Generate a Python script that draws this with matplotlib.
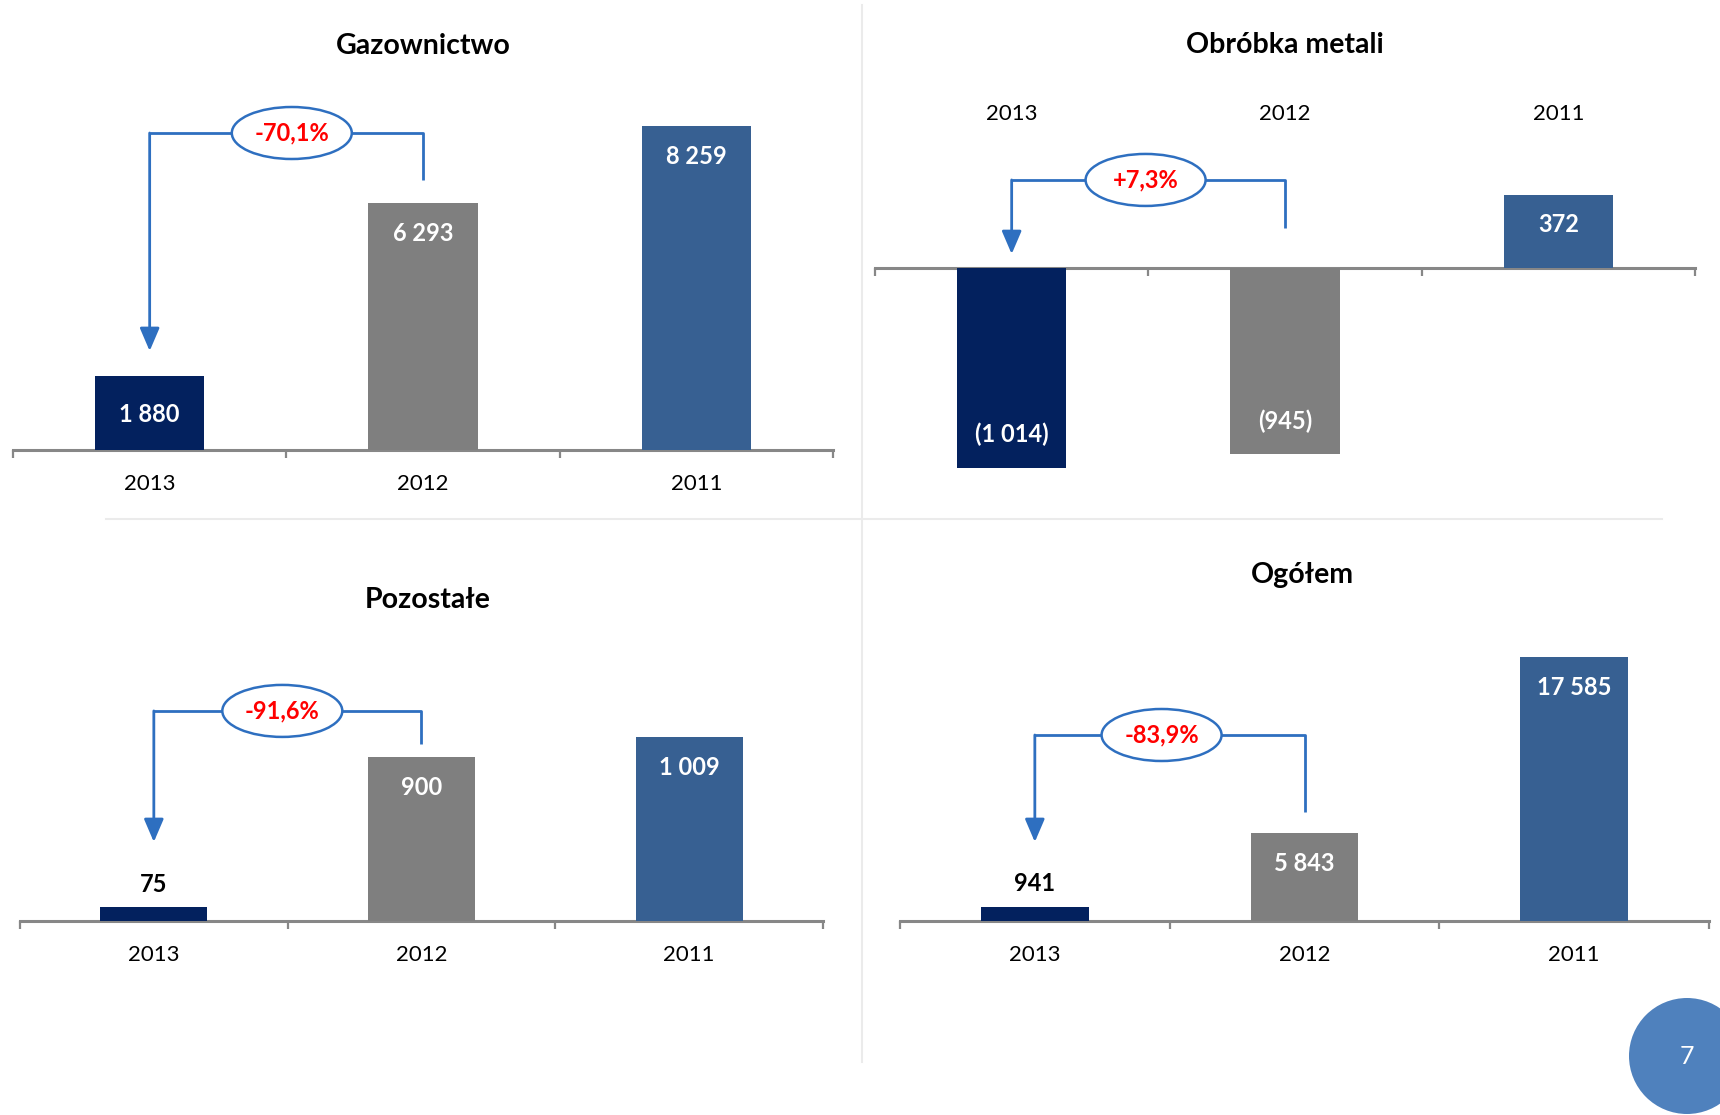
import matplotlib
matplotlib.use("Agg")
import matplotlib.pyplot as plt
from matplotlib.patches import Ellipse

plt.rcParams['font.family'] = ['Lato', 'DejaVu Sans']

# ---------------- data ----------------
years = ["2013", "2012", "2011"]
titles = ["Gazownictwo", "Obróbka metali", "Pozostałe", "Ogółem"]
gaz = [1880, 6293, 8259]
metal = [-1014, -945, 372]
pozostale = [75, 900, 1009]
ogolem = [941, 5843, 17585]
changes = ["-70,1%", "+7,3%", "-91,6%", "-83,9%"]
series = [gaz, metal, pozostale, ogolem]

# ---------------- style / layout ----------------
W, H = 1720, 1115
bar_colors = ["#03215E", "#7F7F7F", "#376092"]
blue = "#2E6FC0"
axis_col = "#878787"

# pixel rects (left, right, top, bottom) and y-limits
layout = [
    dict(rect=(13, 833, 100, 450), ylim=(0, 8929), labels_top=False,
         title_xy=(423, 46), bracket=(8087, 2526, 6888), cx=0.52),
    dict(rect=(875, 1695, 150, 480), ylim=(-1076, 599), labels_top=True,
         title_xy=(1285, 45), bracket=(447, 71, 203), cx=0.49),
    dict(rect=(20, 823, 700, 921), ylim=(0, 1214), labels_top=False,
         title_xy=(428, 600), bracket=(1154, 434, 973), cx=0.48),
    dict(rect=(900, 1709, 640, 921), ylim=(0, 18733), labels_top=False,
         title_xy=(1302, 575), bracket=(12400, 5267, 7267), cx=0.47),
]

fig = plt.figure(figsize=(W / 100, H / 100), dpi=100)


def fmt(v):
    s = f"{abs(v):,}".replace(",", " ")
    return f"({s})" if v < 0 else s


for vals, title, pct, lay in zip(series, titles, changes, layout):
    l, r, t, b = lay["rect"]
    ax = fig.add_axes([l / W, 1 - b / H, (r - l) / W, (b - t) / H])
    ax.set_xlim(-0.5, 2.5)
    ax.set_ylim(*lay["ylim"])
    ax.patch.set_alpha(0)
    for s in ["top", "left", "right"]:
        ax.spines[s].set_visible(False)
    ax.spines["bottom"].set_position(("data", 0))
    ax.spines["bottom"].set_color(axis_col)
    ax.spines["bottom"].set_linewidth(2.2)
    ax.spines["bottom"].set_zorder(1)
    ax.set_yticks([])
    ax.set_xticks([0, 1, 2])
    ax.set_xticklabels([])
    ax.tick_params(axis="x", which="major", length=0)
    ax.set_xticks([-0.5, 0.5, 1.5, 2.5], minor=True)
    ax.tick_params(axis="x", which="minor", length=6, width=1.6,
                   color=axis_col, direction="out")

    x = list(range(len(years)))
    ax.bar(x, vals, width=0.4, color=bar_colors, zorder=2)

    # pixel scale
    ppx = (r - l) / 3.0
    ppy = (b - t) / (lay["ylim"][1] - lay["ylim"][0])

    # value labels
    for xi, v in zip(x, vals):
        hpx = abs(v) * ppy
        sign = 1 if v >= 0 else -1
        if hpx < 40:
            ax.annotate(fmt(v), xy=(xi, v), xytext=(0, 23 * sign),
                        textcoords="offset pixels", ha="center", va="center",
                        fontsize=17, fontweight="bold", color="black",
                        zorder=5)
        else:
            off = 33 if hpx > 150 and sign < 0 else 30
            if 60 < hpx < 80 and sign > 0 and xi == 0:
                off = 38
            ax.annotate(fmt(v), xy=(xi, v), xytext=(0, -off * sign),
                        textcoords="offset pixels", ha="center", va="center",
                        fontsize=17, fontweight="bold", color="white",
                        zorder=5)

    # category labels
    for xi, yr in zip(x, years):
        off = 154 if lay["labels_top"] else -34
        ax.annotate(yr, xy=(xi, 0), xytext=(0, off),
                    textcoords="offset pixels", ha="center", va="center",
                    fontsize=16, color="black", annotation_clip=False)

    # bracket with arrow
    by, tip, rend = lay["bracket"]
    ax.plot([1, 1, 0], [rend, by, by], color=blue, lw=2.0,
            solid_capstyle="butt", clip_on=False, zorder=3)
    ax.annotate("", xy=(0, tip), xytext=(0, by),
                arrowprops=dict(arrowstyle="-|>,head_length=0.7,head_width=0.3",
                                color=blue, lw=2.0, shrinkA=0, shrinkB=0,
                                mutation_scale=20),
                annotation_clip=False, zorder=3)
    cx = lay["cx"]
    ell = Ellipse((cx, by), width=120 / ppx, height=52 / ppy,
                  facecolor="white", edgecolor=blue, lw=1.8,
                  clip_on=False, zorder=4)
    ax.add_patch(ell)
    ax.text(cx, by, pct, ha="center", va="center", color="#FF0000",
            fontsize=17, fontweight="bold", zorder=6, clip_on=False)

    tx, ty = lay["title_xy"]
    fig.text(tx / W, 1 - ty / H, title, ha="center", va="center",
             fontsize=20.5, fontweight="bold", color="black")

# divider lines
fig.add_artist(plt.Line2D([862 / W, 862 / W], [1 - 5 / H, 1 - 1062 / H],
                          color="#EBEBEB", lw=1.5))
fig.add_artist(plt.Line2D([106 / W, 1662 / W], [1 - 519 / H, 1 - 519 / H],
                          color="#EBEBEB", lw=1.5))

# page number badge
rad = 58
badge = Ellipse((1687 / W, 1 - 1056 / H), width=2 * rad / W,
                height=2 * rad / H, transform=fig.transFigure,
                facecolor="#4F81BD", edgecolor="none")
fig.add_artist(badge)
fig.text(1687 / W, 1 - 1056 / H, "7", ha="center", va="center",
         color="white", fontsize=18)

fig.savefig("out.png", dpi=100)
